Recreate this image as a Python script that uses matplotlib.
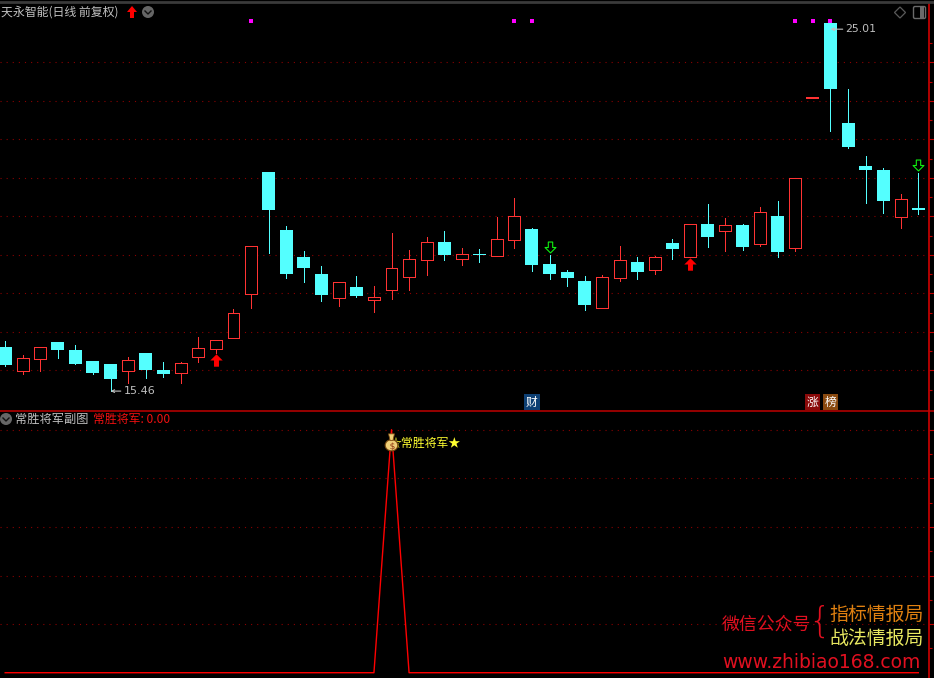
"""Candlestick chart of a stock with an indicator pane below it."""
import matplotlib
matplotlib.use('Agg')
import matplotlib.pyplot as plt
from matplotlib.lines import Line2D
from matplotlib.patches import Circle, Ellipse, Polygon, FancyBboxPatch
from matplotlib.path import Path

plt.rcParams['font.family'] = ['Noto Sans CJK SC', 'DejaVu Sans']

# daily prices
opens = [16.60, 15.99, 16.30, 16.74, 16.53, 16.24, 16.16, 15.99, 16.45, 16.01,
         15.94, 16.35, 16.56, 16.85, 17.99, 21.15, 19.64, 18.94, 18.50, 17.89,
         18.16, 17.83, 18.09, 18.43, 18.87, 19.33, 18.90, 19.02, 18.98, 19.39,
         19.67, 18.76, 18.55, 18.32, 17.63, 18.41, 18.81, 18.61, 19.31, 18.93,
         19.80, 19.63, 19.77, 19.29, 20.01, 19.18, 23.07, 25.01, 22.42, 21.31,
         21.20, 19.99, 20.22]
highs = [16.76, 16.40, 16.60, 16.74, 16.66, 16.24, 16.16, 16.35, 16.45, 16.22,
         16.22, 16.87, 16.78, 17.59, 19.22, 21.15, 19.75, 19.10, 18.71, 18.29,
         18.45, 18.19, 19.57, 19.12, 19.46, 19.62, 19.18, 19.15, 19.98, 20.48,
         19.70, 19.00, 18.61, 18.45, 18.48, 19.23, 18.94, 18.97, 19.41, 19.79,
         20.32, 19.96, 19.80, 20.24, 20.40, 20.99, 23.07, 25.01, 23.31, 21.57,
         21.25, 20.58, 21.12]
lows = [16.11, 15.90, 15.99, 16.32, 16.16, 15.90, 15.46, 15.67, 15.80, 15.83,
        15.67, 16.22, 16.45, 16.85, 17.62, 19.05, 18.40, 18.29, 17.80, 17.67,
        17.90, 17.51, 17.85, 18.09, 18.48, 18.87, 18.74, 18.81, 18.98, 19.18,
        18.58, 18.37, 18.19, 17.57, 17.63, 18.32, 18.37, 18.50, 18.89, 18.93,
        19.20, 19.10, 19.12, 19.23, 18.94, 19.10, 23.07, 22.22, 21.77, 20.35,
        20.09, 19.70, 20.06]
closes = [16.14, 16.31, 16.60, 16.53, 16.16, 15.93, 15.77, 16.26, 16.01, 15.90,
          16.18, 16.57, 16.78, 17.48, 19.22, 20.16, 18.50, 18.66, 17.96, 18.29,
          17.93, 17.90, 18.65, 18.88, 19.33, 19.00, 19.01, 19.00, 19.40, 20.00,
          18.74, 18.50, 18.40, 17.70, 18.42, 18.86, 18.55, 18.94, 19.15, 19.79,
          19.46, 19.77, 19.20, 20.10, 19.07, 20.99, 23.07, 23.31, 21.80, 21.20,
          20.40, 20.44, 20.16]
indicator = [0] * 22 + [100] + [0] * 30

price_ticks = [16, 17, 18, 19, 20, 21, 22, 23, 24]
indicator_ticks = [20, 40, 60, 80]
top_dots = [14, 29, 30, 45, 46, 47]
buy_arrows = [12, 39]
sell_arrows = [31, 52]
tags = [(30, '财', '#0d3f73'), (46, '涨', '#8a0a0a'), (47, '榜', '#8a4a10')]

RED = '#ff3333'
CYAN = '#54ffff'
AXIS = '#c00000'
GRID = '#8a0000'
GRAY = '#c0c0c0'

UP_ARROW = Path([(-.2, -.5), (.2, -.5), (.2, 0), (.5, 0), (0, .5), (-.5, 0),
                 (-.2, 0), (-.2, -.5)], closed=True)
DOWN_ARROW = Path([(-.2, .5), (.2, .5), (.2, 0), (.5, 0), (0, -.5), (-.5, 0),
                   (-.2, 0), (-.2, .5)], closed=True)


def setup_pane(ax, major, minor):
    """Black pane with only the red scale on the right."""
    ax.set_facecolor('black')
    for side in ('left', 'top', 'bottom'):
        ax.spines[side].set_visible(False)
    ax.spines['right'].set_color(AXIS)
    ax.spines['right'].set_linewidth(1.3)
    ax.yaxis.tick_right()
    ax.set_xticks([])
    ax.set_yticks(major)
    ax.set_yticks(minor, minor=True)
    ax.tick_params(axis='y', which='major', length=4.3, width=.8, color=AXIS, labelright=False)
    ax.tick_params(axis='y', which='minor', length=2, width=.8, color=AXIS, labelright=False)
    ax.grid(axis='y', which='major', color=GRID, linestyle=(0, (1, 4.5)), linewidth=.8)
    ax.set_axisbelow(True)


def draw_candles(ax):
    """Wicks first, then the bodies over them."""
    for i in range(len(opens)):
        rising = closes[i] >= opens[i]
        color = RED if rising else CYAN
        ax.plot([i, i], [lows[i], highs[i]], color=color, lw=.7, solid_capstyle='butt',
                antialiased=False, zorder=3)
        bottom = min(opens[i], closes[i])
        height = abs(closes[i] - opens[i])
        if height == 0:
            ax.plot([i - .37, i + .37], [opens[i], opens[i]], color=color, lw=1.4,
                    solid_capstyle='butt', antialiased=False, zorder=4)
        elif rising:
            ax.bar(i, height, .68, bottom, facecolor='black', edgecolor=color, lw=.7,
                   joinstyle='miter', antialiased=False, zorder=4)
        else:
            ax.bar(i, height, .74, bottom, facecolor=color, edgecolor='none',
                   antialiased=False, zorder=4)


fig = plt.figure(figsize=(9.34, 6.78), dpi=100, facecolor='black')
ax_price = fig.add_axes([0, 267.5 / 678, 929 / 934, 407.5 / 678])
ax_ind = fig.add_axes([0, 0, 929 / 934, 267 / 678])

setup_pane(ax_price, price_ticks, [15.5 + t for t in range(10)])
ax_price.set_xlim(-.296, 52.61)
ax_price.set_ylim(14.956, 25.54)
draw_candles(ax_price)

ax_price.scatter(top_dots, [25.07] * len(top_dots), marker='s', s=6, color='#ff00ff',
                 linewidths=0, zorder=5)
ax_price.scatter(buy_arrows, [lows[i] - .17 for i in buy_arrows], marker=UP_ARROW, s=80,
                 color='#ff0000', linewidths=0, zorder=5)
ax_price.scatter(sell_arrows, [highs[i] + .2 for i in sell_arrows], marker=DOWN_ARROW, s=62,
                 facecolor='black', edgecolor='#10f010', linewidths=.8, zorder=5)

arrow_style = dict(arrowstyle='->,head_length=.25,head_width=.12', color=GRAY, lw=.8,
                   shrinkA=0, shrinkB=0)
ax_price.annotate('15.46', xy=(6, 15.46), xytext=(13, 0), textcoords='offset pixels',
                  color=GRAY, fontsize=8, va='center', family='DejaVu Sans',
                  arrowprops=arrow_style)
ax_price.annotate('25.01', xy=(47, 25.01 - .15), xytext=(15, 0), textcoords='offset pixels',
                  color=GRAY, fontsize=7.8, va='center', family='DejaVu Sans',
                  arrowprops=arrow_style, zorder=6)

for i, tag, color in tags:
    ax_price.text(i, 15.17, tag, color='white', fontsize=8.5, ha='center', va='center',
                  bbox=dict(facecolor=color, edgecolor='none', pad=1.2), zorder=6)

setup_pane(ax_ind, indicator_ticks + [100], [10, 30, 50, 70, 90])
ax_ind.set_xlim(-.296, 52.61)
ax_ind.set_ylim(-2.18, 107.7)
ax_ind.plot(range(len(indicator)), indicator, color='#ff0000', lw=1, zorder=3)

# money bag on the peak and its label
peak = indicator.index(100)
ax_ind.text(peak - .12, 94.3, '☆常胜将军★', color='#ffff30', fontsize=8.6, va='center',
            family=['Noto Sans CJK SC', 'DejaVu Sans'], zorder=4)
ax_ind.add_patch(Ellipse((peak, 93.6), .72, 4.6, facecolor='#f0cf78', edgecolor='#7a4a10',
                         lw=.8, zorder=5))
ax_ind.add_patch(Polygon([(peak - .17, 98.3), (peak + .17, 98.3), (peak + .08, 95.6),
                          (peak - .08, 95.6)], facecolor='#f0cf78', edgecolor='#7a4a10',
                         lw=.6, zorder=5))
ax_ind.scatter([peak], [93.4], marker='$\\$$', s=34, color='#8a3010', linewidths=0, zorder=6)


def fx(x):
    return x / 934


def fy(y):
    return 1 - y / 678


# separators, header strip and pane titles, in figure pixels
fig.add_artist(Line2D([0, 1], [fy(410.5), fy(410.5)], color=AXIS, lw=1.1))
fig.add_artist(Line2D([0, 1], [fy(1.5), fy(1.5)], color='#3a3a3a', lw=2))

fig.text(fx(1), fy(12), '天永智能(日线 前复权)', color=GRAY, fontsize=8.6, va='center')
fig.text(fx(15), fy(419), '常胜将军副图', color=GRAY, fontsize=8.8, va='center')
fig.text(fx(93), fy(419), '常胜将军: 0.00', color='#f01010', fontsize=8.6, va='center')

# little icons of the header
ax_icons = fig.add_axes([0, 0, 1, 1], facecolor='none')
ax_icons.set_xlim(0, 934)
ax_icons.set_ylim(678, 0)
ax_icons.axis('off')
ax_icons.add_patch(Polygon([(127, 12), (132, 6), (137, 12), (134, 12), (134, 18), (130, 18),
                            (130, 12)], facecolor='#ff0000', edgecolor='none'))
for cx, cy in ((148, 12), (6, 419)):
    ax_icons.add_patch(Circle((cx, cy), 6, facecolor='#666666', edgecolor='none'))
    ax_icons.plot([cx - 3, cx, cx + 3], [cy - 1, cy + 2, cy - 1], color='#111111', lw=1)
ax_icons.add_patch(Polygon([(900, 7), (905.5, 12.5), (900, 18), (894.5, 12.5)],
                           facecolor='none', edgecolor='#5a5a5a', lw=.9))
ax_icons.add_patch(FancyBboxPatch((915, 8), 9, 9, boxstyle='round,pad=1.5',
                                  facecolor='black', edgecolor='#6a6a6a', lw=1))
ax_icons.add_patch(Polygon([(920, 7), (924, 7), (924, 18), (920, 18)],
                           facecolor='#6a6a6a', edgecolor='none'))

# watermark
ax_icons.text(722, 625, '微信公众号', color='#e01020', fontsize=12.9, va='center')
ax_icons.text(819, 622, '{', color='#e01020', fontsize=25, va='center', ha='center',
              family='DejaVu Sans', fontweight='ultralight')
ax_icons.text(829, 614, '指标情报局', color='#e08010', fontsize=13.6, va='center')
ax_icons.text(829, 638, '战法情报局', color='#e8e860', fontsize=13.6, va='center')
ax_icons.text(722, 663, 'www.zhibiao168.com', color='#e01020', fontsize=13.5, va='center',
              family='DejaVu Sans')

fig.savefig('out.png', dpi=100, facecolor='black')
